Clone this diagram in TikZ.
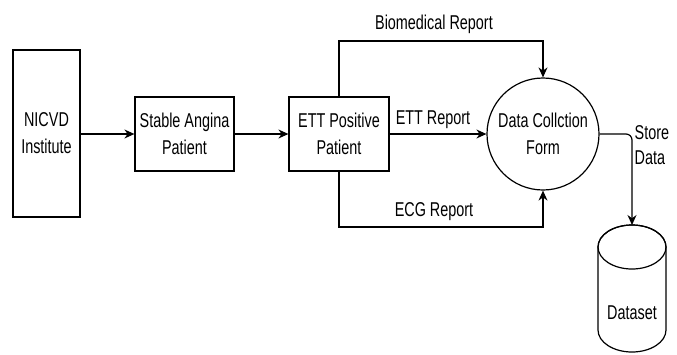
\documentclass[tikz,border=0pt]{standalone}
\usepackage{fontspec}
\setmainfont{Liberation Sans}[FakeStretch=0.72]
\usetikzlibrary{arrows.meta}
\begin{document}
\begin{tikzpicture}[x=1pt,y=-1pt,
  every node/.style={font=\fontsize{20}{27}\selectfont},
  proc/.style={draw, line width=1.2pt, rectangle, align=center, inner sep=0pt},
  conn/.style={line width=1.2pt, -{Stealth[length=10pt,width=9pt]}},
  lbl/.style={inner sep=2pt, align=left}]
\useasboundingbox (0,0) rectangle (677,354);
\node[proc, minimum width=67pt, minimum height=167pt] (nicvd) at (46.5,133.5) {NICVD\\Institute};
\node[proc, minimum width=99pt, minimum height=74pt] (angina) at (184.5,134) {Stable Angina\\Patient};
\node[proc, minimum width=100pt, minimum height=74pt] (ett) at (339,134) {ETT Positive\\Patient};
\node[draw, circle, line width=1.2pt, minimum size=112pt, inner sep=0pt, align=center] (dcf) at (543,134) {Data Collction\\Form};
\coordinate (top) at (543,41);
\coordinate (bot) at (543,227);
\coordinate (dstop) at (632,225);
% cylinder
\draw[line width=1.2pt] (598,247) -- (598,330) arc[start angle=180, end angle=360, x radius=34pt, y radius=22pt] -- (666,247) arc[start angle=0, end angle=180, x radius=34pt, y radius=22pt];
\draw[line width=1.2pt] (632,247) ellipse [x radius=34pt, y radius=22pt];
\node (dataset) at (632,313) {Dataset};
% connectors
\draw[conn] (nicvd.east |- angina.west) -- (angina.west);
\draw[conn] (angina.east) -- (ett.west);
\draw[conn] (ett.east) -- node[above, yshift=1pt, xshift=-5pt] (lett) {ETT Report} (dcf.west);
\draw[conn] (ett.north) |- node[pos=0.75, above, yshift=3pt, xshift=-7pt] (lbio) {Biomedical Report} (top) -- (dcf.north);
\draw[conn] (ett.south) |- node[pos=0.75, above, yshift=2pt, xshift=-7pt] (lecg) {ECG Report} (bot) -- (dcf.south);
\draw[conn, rounded corners=6pt] (dcf.east) -| (dstop);
\node[lbl, anchor=west, font=\fontsize{20}{25}\selectfont] (lstore) at (632.5,145) {Store\\Data};
\end{tikzpicture}
\end{document}
